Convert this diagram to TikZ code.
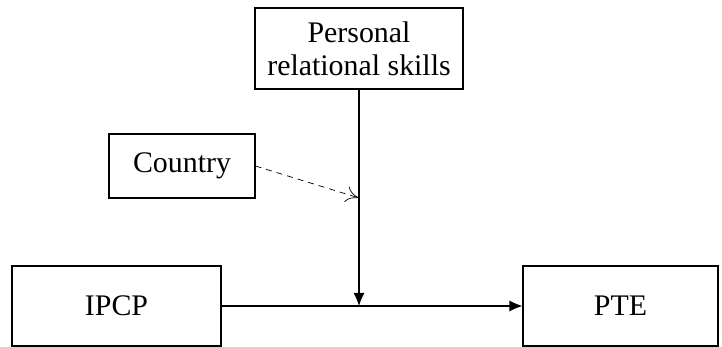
\documentclass[tikz,border=0pt]{standalone}
\usepackage{fontspec}
\setmainfont{Liberation Serif}
\usetikzlibrary{arrows.meta,positioning}

\begin{document}
\begin{tikzpicture}[line width=0.6pt,>={Latex[length=2.6mm,width=2.2mm]},
	box/.style={draw,minimum height=1.6cm,align=center,inner sep=0pt,
		font=\fontsize{17}{19}\selectfont}]

\useasboundingbox (0,0) rectangle (14.44,-6.94);

\node[box,minimum width=4.16cm,minimum height=1.62cm] (skills) at (7.18,-0.97) {Personal\\relational skills};
\node[box,minimum width=2.92cm,minimum height=1.28cm] (country) at (3.64,-3.32) {Country};
\node[box,minimum width=4.18cm] (ipcp) at (2.33,-6.12) {IPCP};
\node[box,minimum width=3.9cm] (pte) at (12.41,-6.12) {PTE};

\coordinate (join) at (7.18,-6.12);
\coordinate (hit) at (7.18,-3.96);

\draw[->] (ipcp) -- (pte);
\draw[->] (skills) -- (join);
\draw[dashed,dash pattern=on 1.2mm off 1mm,-{To[length=2.6mm,width=3.2mm]},line width=0.4pt]
	(country.east) -- (hit);

\end{tikzpicture}
\end{document}
